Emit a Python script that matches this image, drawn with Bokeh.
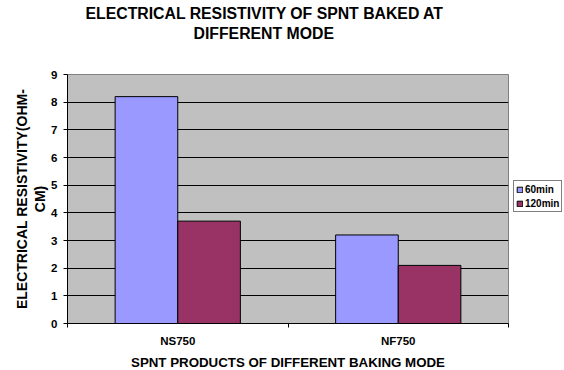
import numpy as np
from bokeh.plotting import figure
from bokeh.models import (ColumnDataSource, Range1d, FixedTicker, Legend, LegendItem, Title)
from bokeh.transform import dodge
from bokeh.embed import file_html
from bokeh.resources import INLINE

categories = ["NS750", "NF750"]
series_names = ["60min", "120min"]
values_60 = [8.2, 3.2]
values_120 = [3.7, 2.1]
y_ticks = [0, 1, 2, 3, 4, 5, 6, 7, 8, 9]
colors = ["#9999FF", "#993366"]

FONT = "Liberation Sans"

idx = np.arange(len(categories)) + 0.5
src = ColumnDataSource(dict(x=idx, v60=values_60, v120=values_120, cat=categories))

p = figure(frame_width=441, frame_height=249, output_backend="svg", toolbar_location=None,
           x_range=Range1d(0, len(categories)), y_range=Range1d(0, 9),
           min_border_left=67, min_border_top=74, min_border_right=56, min_border_bottom=47)
p.background_fill_color = "#C0C0C0"
p.border_fill_color = "white"
p.outline_line_color = "#808080"
p.outline_line_width = 1

bw = 0.284
r1 = p.vbar(x=dodge("x", -bw / 2, range=p.x_range), top="v60", width=bw, source=src,
            fill_color=colors[0], line_color="black", line_width=1)
r2 = p.vbar(x=dodge("x", bw / 2, range=p.x_range), top="v120", width=bw, source=src,
            fill_color=colors[1], line_color="black", line_width=1)

# x axis
xa = p.xaxis[0]
xa.ticker = FixedTicker(ticks=list(idx), minor_ticks=list(np.arange(len(categories) + 1)))
xa.major_label_overrides = {float(v): c for v, c in zip(idx, categories)}
xa.major_tick_out = 0
xa.major_tick_in = 0
xa.minor_tick_out = 4
xa.minor_tick_in = 0
xa.minor_tick_line_color = "black"
xa.axis_line_color = "black"
xa.major_label_text_font = FONT
xa.major_label_text_font_style = "bold"
xa.major_label_text_font_size = "11.5px"
xa.major_label_text_color = "black"
xa.major_label_standoff = 7
xa.axis_label = "SPNT PRODUCTS OF DIFFERENT BAKING MODE"
xa.axis_label_text_font = FONT
xa.axis_label_text_font_style = "bold"
xa.axis_label_text_font_size = "13.3px"
xa.axis_label_text_color = "black"
xa.axis_label_standoff = 5

# y axis
ya = p.yaxis[0]
ya.ticker = FixedTicker(ticks=y_ticks)
ya.minor_tick_line_color = None
ya.major_tick_out = 4
ya.major_tick_in = 0
ya.major_tick_line_color = "black"
ya.axis_line_color = "black"
ya.major_label_text_font = FONT
ya.major_label_text_font_style = "bold"
ya.major_label_text_font_size = "11.5px"
ya.major_label_text_color = "black"
ya.major_label_standoff = 6
ya.axis_label = "ELECTRICAL RESISTIVITY(OHM-\nCM)"
ya.axis_label_text_font = FONT
ya.axis_label_text_font_style = "bold"
ya.axis_label_text_font_size = "14px"
ya.axis_label_text_color = "black"
ya.axis_label_text_line_height = 1.1
ya.axis_label_standoff = 0

p.xgrid.grid_line_color = None
p.ygrid.grid_line_color = "black"
p.ygrid.grid_line_width = 1

# title lines (first added sits nearest the frame)
p.title.visible = False
spacer = Title(text=" ", standoff=19, text_font=FONT, text_font_size="10px")
t2 = Title(text="DIFFERENT MODE", align="left", offset=126, standoff=2,
           text_font=FONT, text_font_style="bold", text_font_size="15.8px", text_color="black")
t1 = Title(text="ELECTRICAL RESISTIVITY OF SPNT BAKED AT", align="left", offset=18, standoff=0,
           text_font=FONT, text_font_style="bold", text_font_size="15.8px", text_color="black")
p.add_layout(spacer, "above")
p.add_layout(t2, "above")
p.add_layout(t1, "above")

legend = Legend(items=[LegendItem(label=series_names[0], renderers=[r1]),
                       LegendItem(label=series_names[1], renderers=[r2])],
                location=(5, 111), orientation="vertical",
                glyph_width=7, glyph_height=7, label_height=12, label_standoff=2,
                padding=2, spacing=2, margin=0,
                label_text_font=FONT, label_text_font_style="bold",
                label_text_font_size="10px", label_text_color="black",
                border_line_color="black", border_line_width=1,
                background_fill_color="white", background_fill_alpha=1)
p.add_layout(legend, "right")

open("out.html", "w").write(file_html(p, INLINE))
